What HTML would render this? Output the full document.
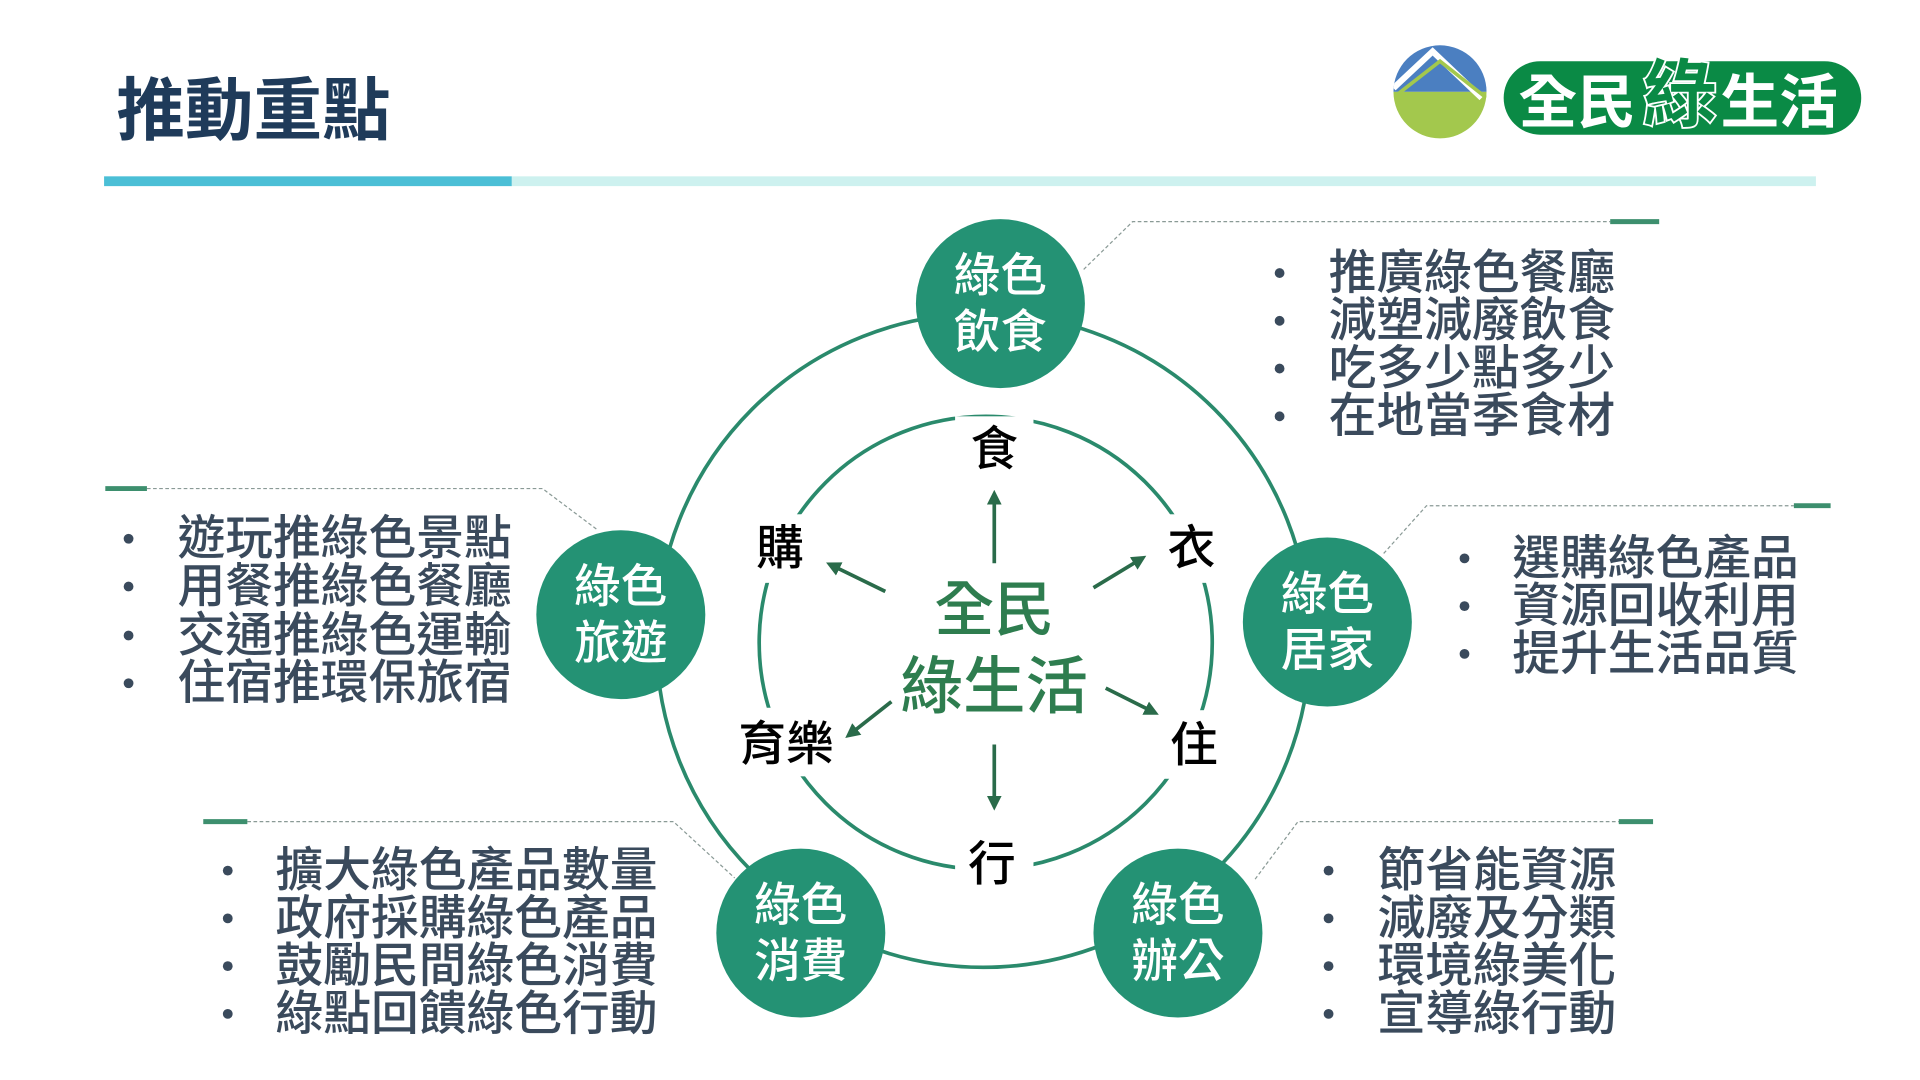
<!DOCTYPE html>
<html><head><meta charset="utf-8"><style>
html,body{margin:0;padding:0;background:#fff;width:1920px;height:1080px;overflow:hidden}
svg{display:block}
text{font-family:"Liberation Sans","Noto Sans CJK TC",sans-serif;font-weight:500}
</style></head><body>
<svg width="1920" height="1080" viewBox="0 0 1568 882" preserveAspectRatio="none" xmlns="http://www.w3.org/2000/svg">
<defs>
<marker id="ar" viewBox="0 0 10 10" refX="5" refY="5" markerWidth="4" markerHeight="4" orient="auto"><path d="M0,0 L10,5 L0,10 z" fill="#2a6b4a"/></marker>
</defs>
<text x="95" y="110" font-size="56" fill="#1f3b5a" style="font-weight:bold">推動重點</text>
<rect x="85" y="144" width="333" height="8" fill="#4bbfd6"/>
<rect x="418" y="144" width="1065" height="8" fill="#cdf1ef"/>
<clipPath id="lc"><circle cx="1176" cy="75" r="38"/></clipPath>
<g clip-path="url(#lc)">
<rect x="1130" y="30" width="100" height="45" fill="#4b7fc1"/>
<rect x="1130" y="75" width="100" height="45" fill="#a3c84d"/>
<path d="M1138,72 L1170,42 L1210,80" fill="none" stroke="#fff" stroke-width="5"/>
<path d="M1140,78 L1176,50 L1214,80" fill="none" stroke="#a3c84d" stroke-width="3"/>
</g>
<rect x="1228" y="50" width="292" height="60" rx="30" fill="#0a8a45"/>
<text x="1240" y="100" font-size="48" fill="#fff" style="font-weight:bold">全民</text>
<text x="1342" y="98" font-size="60" fill="#0a8a45" stroke="#fff" stroke-width="3" paint-order="stroke" style="font-weight:bold">綠</text>
<text x="1405" y="100" font-size="48" fill="#fff" style="font-weight:bold">生活</text>
<circle cx="803" cy="523" r="267" fill="none" stroke="#2a8a6c" stroke-width="3"/>
<circle cx="805" cy="525" r="185" fill="none" stroke="#2a8a6c" stroke-width="3"/>
<g fill="#fff">
<rect x="780" y="340" width="64" height="52"/>
<rect x="945" y="420" width="60" height="56"/>
<rect x="945" y="580" width="60" height="56"/>
<rect x="780" y="678" width="64" height="52"/>
<rect x="595" y="578" width="95" height="56"/>
<rect x="608" y="420" width="60" height="56"/>
</g>
<g font-size="39" fill="#000" text-anchor="middle" style="font-weight:bold">
<text x="812" y="380">食</text>
<text x="973" y="461">衣</text>
<text x="975" y="622">住</text>
<text x="810" y="719">行</text>
<text x="642" y="621">育樂</text>
<text x="637" y="461">購</text>
</g>
<text x="812" y="515" font-size="49" fill="#2e7d4f" text-anchor="middle">全民</text>
<text x="812" y="578" font-size="51" fill="#2e7d4f" text-anchor="middle">綠生活</text>
<g stroke="#2a6b4a" stroke-width="3" marker-end="url(#ar)">
<line x1="812" y1="460" x2="812" y2="406"/>
<line x1="812" y1="608" x2="812" y2="656"/>
<line x1="893" y1="480" x2="931" y2="457"/>
<line x1="903" y1="562" x2="941" y2="581"/>
<line x1="723" y1="483" x2="680" y2="462"/>
<line x1="728" y1="573" x2="695" y2="599"/>
</g>
<g fill="#249274">
<circle cx="817" cy="248" r="69"/>
<circle cx="1084" cy="508" r="69"/>
<circle cx="507" cy="502" r="69"/>
<circle cx="654" cy="762" r="69"/>
<circle cx="962" cy="762" r="69"/>
</g>
<g font-size="38" fill="#fff" text-anchor="middle">
<text x="817" y="238">綠色</text><text x="817" y="284">飲食</text>
<text x="1084" y="498">綠色</text><text x="1084" y="544">居家</text>
<text x="507" y="492">綠色</text><text x="507" y="538">旅遊</text>
<text x="654" y="752">綠色</text><text x="654" y="798">消費</text>
<text x="962" y="752">綠色</text><text x="962" y="798">辦公</text>
</g>
<g fill="none" stroke="#8a9a96" stroke-width="1" stroke-dasharray="3,2">
<polyline points="885,220 925,181 1315,181"/>
<polyline points="1130,452 1165,413 1465,413"/>
<polyline points="120,399 443,399 487,432"/>
<polyline points="202,671 550,671 600,717"/>
<polyline points="1025,718 1060,671 1322,671"/>
</g>
<g stroke="#3d8f6e" stroke-width="4">
<line x1="1315" y1="181" x2="1355" y2="181"/>
<line x1="1465" y1="413" x2="1495" y2="413"/>
<line x1="86" y1="399" x2="120" y2="399"/>
<line x1="166" y1="671" x2="202" y2="671"/>
<line x1="1322" y1="671" x2="1350" y2="671"/>
</g>
<g font-size="39" fill="#3a4a5c">
<g><text x="1085" y="236">推廣綠色餐廳</text><text x="1085" y="275">減塑減廢飲食</text><text x="1085" y="314">吃多少點多少</text><text x="1085" y="353">在地當季食材</text></g>
<g><text x="1235" y="469">選購綠色產品</text><text x="1235" y="508">資源回收利用</text><text x="1235" y="547">提升生活品質</text></g>
<g><text x="145" y="453">遊玩推綠色景點</text><text x="145" y="492">用餐推綠色餐廳</text><text x="145" y="532">交通推綠色運輸</text><text x="145" y="571">住宿推環保旅宿</text></g>
<g><text x="225" y="724">擴大綠色產品數量</text><text x="225" y="763">政府採購綠色產品</text><text x="225" y="802">鼓勵民間綠色消費</text><text x="225" y="841">綠點回饋綠色行動</text></g>
<g><text x="1125" y="724">節省能資源</text><text x="1125" y="763">減廢及分類</text><text x="1125" y="802">環境綠美化</text><text x="1125" y="841">宣導綠行動</text></g>
</g>
<g fill="#3a4a5c">
<circle cx="1045" cy="223" r="4"/><circle cx="1045" cy="262" r="4"/><circle cx="1045" cy="301" r="4"/><circle cx="1045" cy="340" r="4"/>
<circle cx="1196" cy="456" r="4"/><circle cx="1196" cy="495" r="4"/><circle cx="1196" cy="534" r="4"/>
<circle cx="105" cy="440" r="4"/><circle cx="105" cy="479" r="4"/><circle cx="105" cy="519" r="4"/><circle cx="105" cy="558" r="4"/>
<circle cx="186" cy="711" r="4"/><circle cx="186" cy="750" r="4"/><circle cx="186" cy="789" r="4"/><circle cx="186" cy="828" r="4"/>
<circle cx="1085" cy="711" r="4"/><circle cx="1085" cy="750" r="4"/><circle cx="1085" cy="789" r="4"/><circle cx="1085" cy="828" r="4"/>
</g>
</svg>
</body></html>
